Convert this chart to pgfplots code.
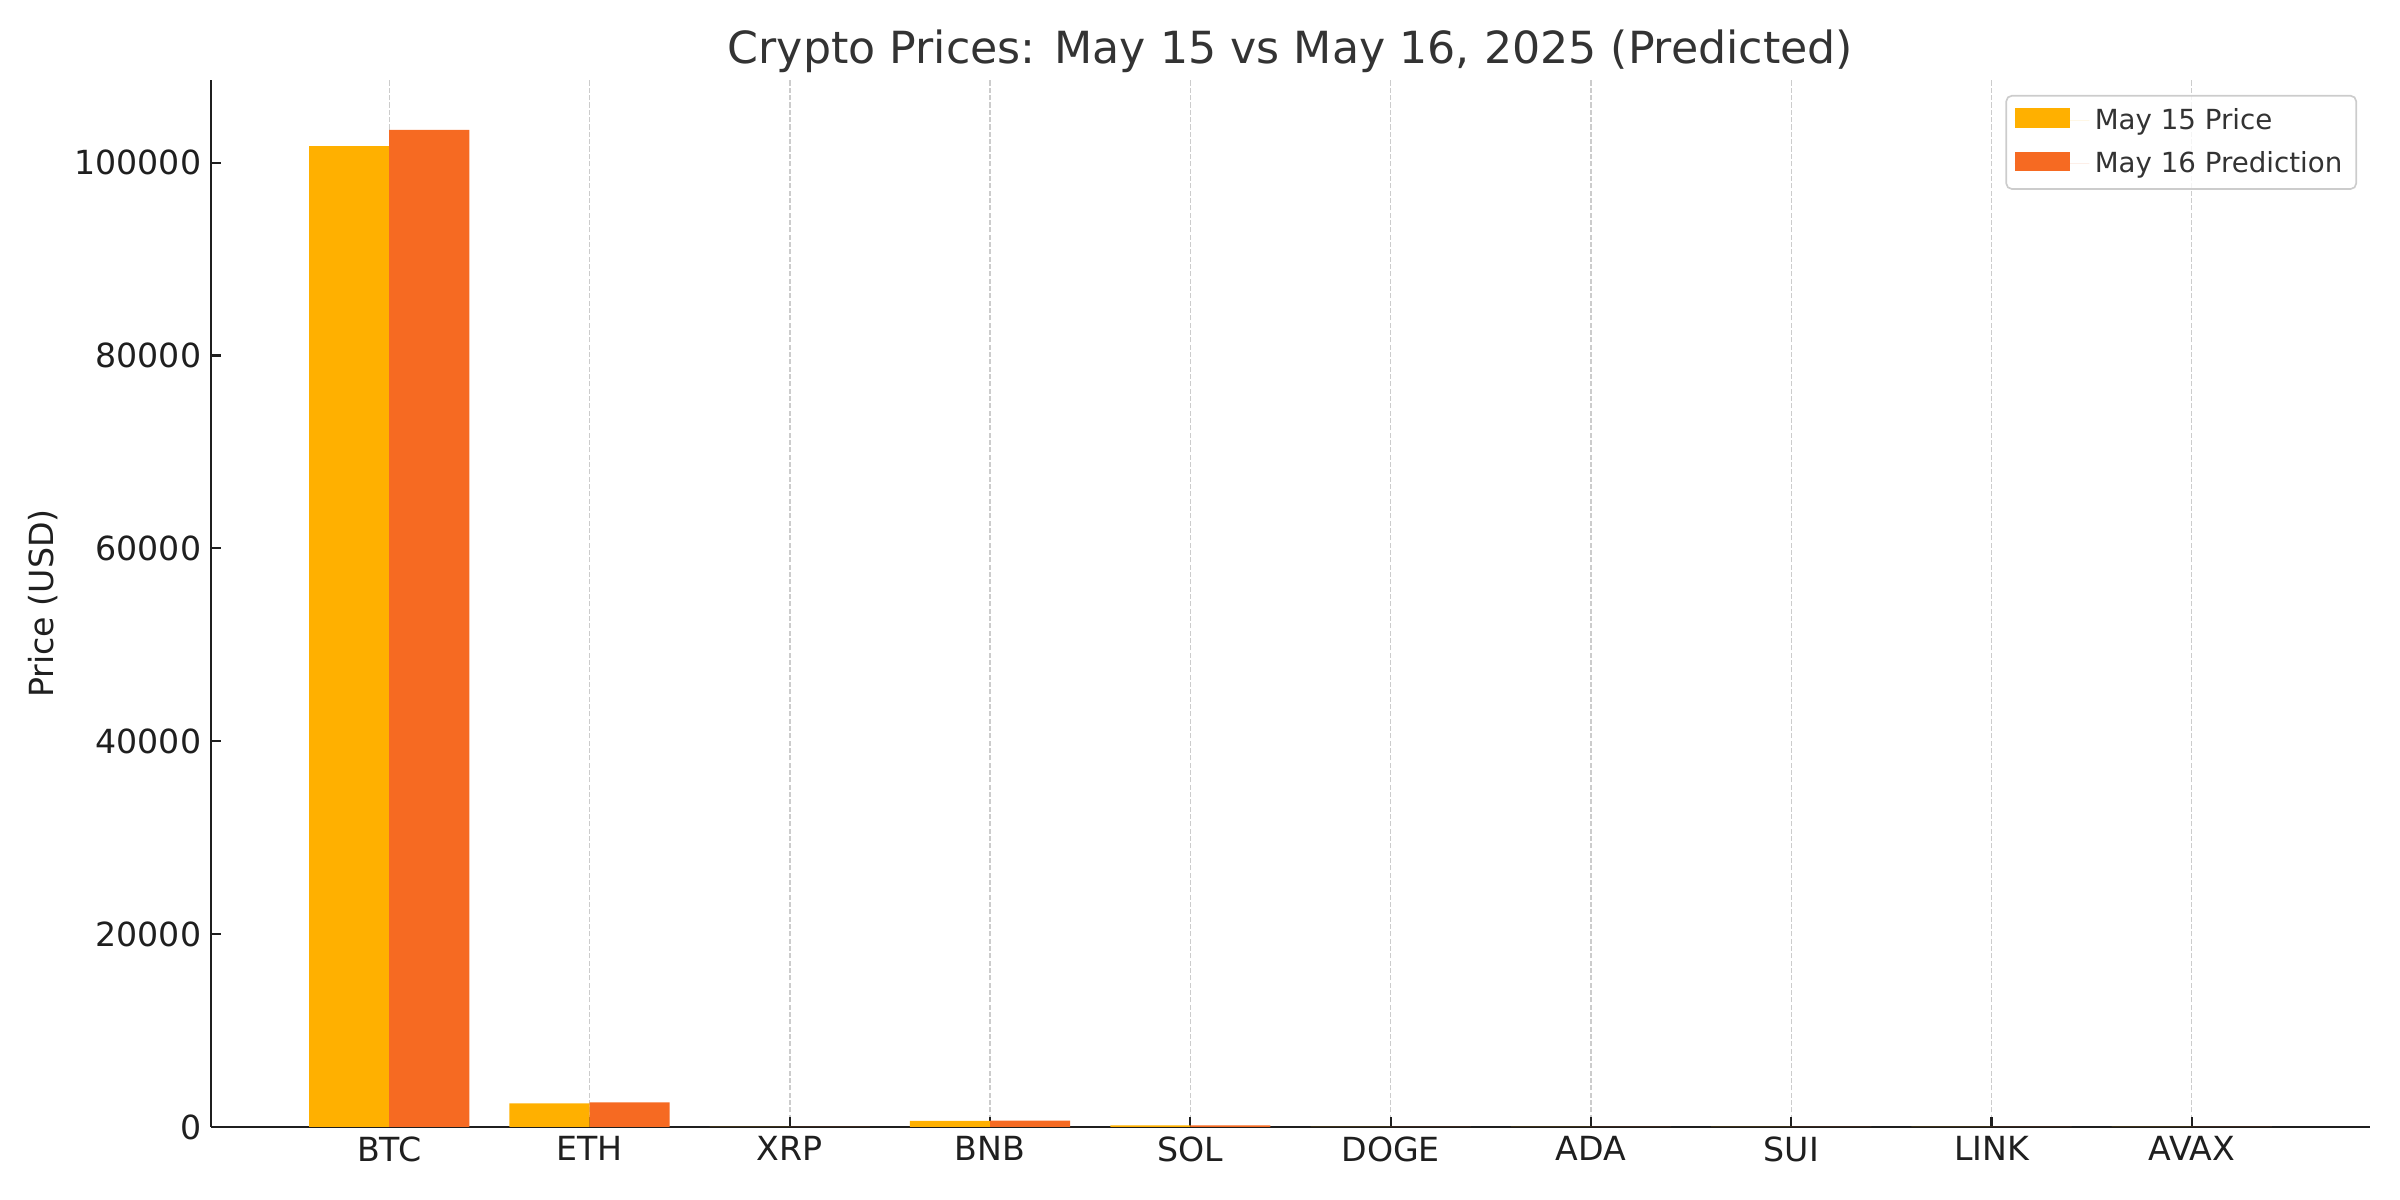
\documentclass[border=0pt]{standalone}
\usepackage{fontspec}
\setmainfont{DejaVu Sans}
\usepackage{pgfplots}
\usepackage{pgfplotstable}
\pgfplotsset{compat=1.18}
\definecolor{cyel}{HTML}{FFB000}
\definecolor{corg}{HTML}{F66A22}
\definecolor{ctxt}{HTML}{333333}
\pgfplotstableread{
x name may15 may16
0 BTC 101700 103400
1 ETH 2450 2550
2 XRP 2.45 2.55
3 BNB 640 650
4 SOL 170 175
5 DOGE 0.22 0.23
6 ADA 0.77 0.79
7 SUI 3.8 3.9
8 LINK 16.0 16.4
9 AVAX 23.5 24.2
}\prices
\begin{document}
\begin{tikzpicture}
\useasboundingbox (0,0) rectangle (12in,6in);
\begin{axis}[
  at={(1.055in,0.365in)}, anchor=south west,
  width=10.795in, height=5.235in, scale only axis,
  ybar=0pt, bar width=0.4,
  xmin=-0.89, xmax=9.89, ymin=0, ymax=108570,
  axis x line*=bottom, axis y line*=left,
  axis line style={-, line width=0.8pt, black!88},
  xtick={0,...,9},
  xticklabels={BTC,ETH,XRP,BNB,SOL,DOGE,ADA,SUI,LINK,AVAX},
  ytick={0,20000,40000,60000,80000,100000},
  scaled y ticks=false,
  yticklabel style={/pgf/number format/.cd, fixed, 1000 sep={}, precision=0, assume math mode=true},
  tick align=inside,
  major tick length=3.5pt,
  tick style={line width=0.8pt, black!88},
  ticklabel style={font=\fontsize{12}{14}\selectfont, text=black!88},
  xmajorgrids, ymajorgrids=false,
  major grid style={line width=0.5pt, color=black!20, dash pattern=on 1.85pt off 0.8pt},
  title={Crypto Prices: May 15 vs May 16, 2025 (Predicted)},
  title style={font=\fontsize{16}{19}\selectfont, text=ctxt, at={(0.5,1)}, anchor=south, yshift=-7pt},
  ylabel={Price (USD)},
  ylabel style={font=\fontsize{12}{14}\selectfont, text=black!88, at={(axis description cs:-0.0778,0.5)}, anchor=center},
  legend style={at={(1,1)}, anchor=north east, xshift=-4.7pt, yshift=-5.4pt,
    draw=black!20, rounded corners=2pt, line width=0.6pt, fill=white, fill opacity=0.8, text opacity=1,
    font=\fontsize{10}{12}\selectfont, text=ctxt, inner xsep=3pt, inner ysep=2.5pt,
    row sep=2.5pt},
  legend cell align=left,
  legend image code/.code={\path (0pt,0pt) -- (27pt,0pt);\fill[#1, fill opacity=1, sharp corners] (0pt,-2.5pt) rectangle (20pt,4.5pt);},
]
\addplot[fill=cyel, draw=none] table[x=x, y=may15] {\prices};
\addlegendentry{May 15 Price}
\addplot[fill=corg, draw=none] table[x=x, y=may16] {\prices};
\addlegendentry{May 16 Prediction}
\end{axis}
\end{tikzpicture}
\end{document}
